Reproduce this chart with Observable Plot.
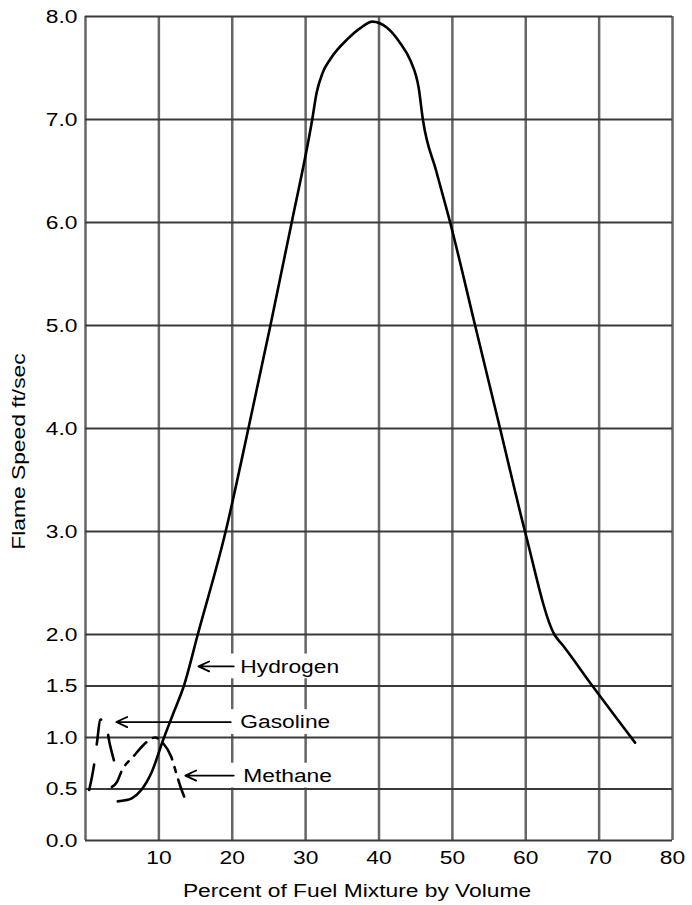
<!DOCTYPE html>
<html>
<head>
<meta charset="utf-8">
<script src="https://cdn.jsdelivr.net/npm/d3@7"></script>
<script src="https://cdn.jsdelivr.net/npm/@observablehq/plot@0.6"></script>
<style>
  html, body { margin: 0; padding: 0; background: #fff; }
</style>
</head>
<body>
<div id="chart"></div>
<script>
// ---- Data ----
const xTicks = [0, 10, 20, 30, 40, 50, 60, 70, 80];
const xTickLabels = [10, 20, 30, 40, 50, 60, 70, 80];
const yTicks = [0, 0.5, 1, 1.5, 2, 3, 4, 5, 6, 7, 8];

const hydrogenX = [4.4, 5.4, 6.3, 7.6, 9.0, 10.6, 12.0, 13.4, 15.3, 19.1, 22.2, 25.2, 28.1, 30.9, 31.5, 32.3, 33.4, 35.7, 37.5, 39.1, 41.1, 42.9, 44.3, 45.4, 46.0, 47.8, 49.7, 53.1, 56.5, 59.9, 63.9, 65.0, 69.2, 74.9];
const hydrogenY = [0.38, 0.39, 0.41, 0.49, 0.66, 0.98, 1.24, 1.50, 2.00, 3.00, 4.00, 5.00, 6.00, 7.00, 7.26, 7.45, 7.59, 7.78, 7.89, 7.95, 7.89, 7.74, 7.57, 7.31, 6.99, 6.50, 6.00, 5.00, 4.00, 3.00, 2.00, 1.90, 1.49, 0.95];

const gasolineX = [0.5, 1.2, 1.6, 2.0, 2.6, 3.3, 4.4];
const gasolineY = [0.49, 0.75, 0.97, 1.17, 1.18, 0.94, 0.65];

const methaneX = [3.6, 4.3, 4.9, 6.7, 7.8, 8.4, 9.5, 10.5, 11.7, 12.3, 13.1, 13.8];
const methaneY = [0.52, 0.57, 0.67, 0.83, 0.92, 0.96, 1.00, 0.95, 0.81, 0.67, 0.49, 0.37];

const fuelNames = ["Hydrogen", "Gasoline", "Methane"];
const arrowTipX = [15.4, 4.2, 13.6];
const arrowTipY = [1.69, 1.15, 0.63];
const arrowTailX = [20.2, 19.8, 20.2];
const labelX = [21.1, 21.1, 21.5];

const xLabel = "Percent of Fuel Mixture by Volume";
const yLabel = "Flame Speed ft/sec";

// ---- Build tables ----
const toRows = (xs, ys) => xs.map((x, i) => ({x, y: ys[i]}));
const hydrogen = toRows(hydrogenX, hydrogenY);
const gasoline = toRows(gasolineX, gasolineY);
const methane = toRows(methaneX, methaneY);
const notes = fuelNames.map((name, i) => ({
  name,
  tipX: arrowTipX[i], tipY: arrowTipY[i],
  tailX: arrowTailX[i],
  labelX: labelX[i],
  boxX1: arrowTailX[i] - 0.3, boxX2: labelX[i] + 15,
  boxY1: arrowTipY[i] - 0.12, boxY2: arrowTipY[i] + 0.12
}));

const chart = Plot.plot({
  width: 692,
  height: 905,
  marginLeft: 85,
  marginRight: 20,
  marginTop: 16,
  marginBottom: 65,
  style: {fontFamily: "'Liberation Sans', Arial, sans-serif", fontSize: "19px", color: "#000", background: "#fff"},
  x: {domain: [0, 80]},
  y: {domain: [0, 8]},
  marks: [
    Plot.gridX(xTicks, {stroke: "#666", strokeOpacity: 1, strokeWidth: 2.5}),
    Plot.gridY(yTicks, {stroke: "#3a3a3a", strokeOpacity: 1, strokeWidth: 2}),
    Plot.rect(notes, {x1: "boxX1", x2: "boxX2", y1: "boxY1", y2: "boxY2", fill: "#fff"}),
    Plot.axisX(xTickLabels, {tickSize: 0, tickPadding: 10, label: null}),
    Plot.axisY(yTicks, {tickSize: 0, tickPadding: 8, tickFormat: d => d.toFixed(1), label: null}),
    Plot.line(gasoline, {x: "x", y: "y", curve: "monotone-x", stroke: "#000", strokeWidth: 2.6, strokeDasharray: "26,20"}),
    Plot.line(methane, {x: "x", y: "y", curve: "monotone-x", stroke: "#000", strokeWidth: 2.6, strokeDasharray: "18,8,5,8"}),
    Plot.line(hydrogen, {x: "x", y: "y", curve: "monotone-x", stroke: "#000", strokeWidth: 2.6}),
    Plot.arrow(notes, {x1: "tailX", y1: "tipY", x2: "tipX", y2: "tipY", stroke: "#000", strokeWidth: 1.8, headLength: 10, headAngle: 50}),
    Plot.text(notes, {x: "labelX", y: "tipY", text: "name", textAnchor: "start", lineAnchor: "middle", fill: "#000"}),
    Plot.text([xLabel], {frameAnchor: "bottom", textAnchor: "middle", lineAnchor: "middle", dx: -22, dy: 50, fill: "#000"}),
    Plot.text([yLabel], {frameAnchor: "left", textAnchor: "middle", lineAnchor: "middle", rotate: -90, dx: -67, dy: 23, fill: "#000"})
  ]
});

// Widen glyphs along the text direction like the reference lettering
d3.select(chart).selectAll("text").each(function() {
  const t = d3.select(this);
  const tr = t.attr("transform");
  if (tr) {
    t.attr("transform", tr + " scale(1.2,1)");
  } else {
    const x = +(t.attr("x") || 0), y = +(t.attr("y") || 0);
    t.attr("transform", `translate(${x},${y}) scale(1.2,1) translate(${-x},${-y})`);
  }
});

document.getElementById("chart").appendChild(chart);
</script>
</body>
</html>
